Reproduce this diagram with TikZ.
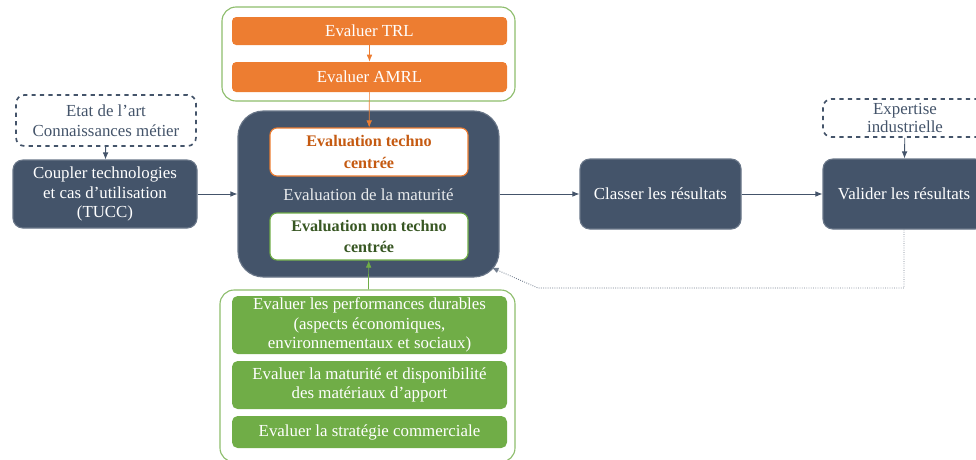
\documentclass[tikz,border=0pt]{standalone}
\usepackage{fontspec}
\setmainfont{Liberation Serif}
\usepackage{tikz}
\usetikzlibrary{arrows.meta,calc,positioning}
\definecolor{SchemaSlate}{RGB}{68,84,106}
\definecolor{SchemaOrange}{RGB}{237,125,49}
\definecolor{SchemaOrangeText}{RGB}{197,90,17}
\definecolor{SchemaGreen}{RGB}{112,173,71}
\definecolor{SchemaGreenText}{RGB}{56,87,35}

\begin{document}
\begin{tikzpicture}[>={Latex[length=5pt,width=4pt]},
  every node/.style={font=\fontsize{12}{14}\selectfont,align=center,inner sep=0pt},
  darkbox/.style={draw=SchemaSlate!80,fill=SchemaSlate,text=white,rounded corners=7pt,thick},
  orangebox/.style={fill=SchemaOrange,text=white,rounded corners=3pt,minimum width=6.875cm},
  greenbox/.style={fill=SchemaGreen,text=white,rounded corners=4pt,minimum width=6.875cm},
  frame/.style={draw=SchemaGreen!80,rounded corners=10pt,line width=0.8pt},
  inputbox/.style={draw=SchemaSlate,dashed,line width=1.2pt,rounded corners=6pt,text=SchemaSlate},
  link/.style={->,SchemaSlate,line width=0.6pt}]
\useasboundingbox (0,0) rectangle (24.4,-11.475);
\clip (0,0) rectangle (24.4,-11.475);
% orange block
\node[frame,minimum width=7.325cm,minimum height=2.35cm] (topframe) at (9.2125,-1.35) {};
\node[orangebox,minimum height=0.7cm] (trl) at (9.2375,-0.775) {Evaluer TRL};
\node[orangebox,minimum height=0.75cm] (amrl) at (9.2375,-1.925) {Evaluer AMRL};
% maturity
\node[darkbox,rounded corners=18pt,minimum width=6.525cm,minimum height=4.15cm] (maturite) at (9.2125,-4.85) {};
\node[text=white!88!SchemaSlate] (maturitelabel) at (9.2125,-4.875) {Evaluation de la maturité};
\node[draw=SchemaOrange,fill=white,thick,rounded corners=5pt,minimum width=4.95cm,minimum height=1.2cm,text=SchemaOrangeText,font=\fontsize{11.5}{15}\selectfont\bfseries] (techno) at (9.225,-3.8) {Evaluation techno\\centrée};
\node[draw=SchemaGreen,fill=white,thick,rounded corners=5pt,minimum width=4.95cm,minimum height=1.175cm,text=SchemaGreenText,font=\fontsize{11.5}{15}\selectfont\bfseries] (nontechno) at (9.225,-5.9125) {Evaluation non techno\\centrée};
% green block
\node[frame,minimum width=7.375cm,minimum height=4.3cm] (botframe) at (9.1875,-9.4) {};
\node[greenbox,minimum height=1.45cm] (perf) at (9.2375,-8.125) {Evaluer les performances durables\\(aspects économiques,\\environnementaux et sociaux)};
\node[greenbox,minimum height=1.2cm] (matdisp) at (9.2375,-9.625) {Evaluer la maturité et disponibilité\\des matériaux d’apport};
\node[greenbox,minimum height=0.8cm] (strat) at (9.2375,-10.8) {Evaluer la stratégie commerciale};
% process line
\node[inputbox,minimum width=4.5cm,minimum height=1.275cm] (etat) at (2.65,-3.0125) {Etat de l’art\\Connaissances métier};
\node[darkbox,minimum width=4.6cm,minimum height=1.7cm] (tucc) at (2.625,-4.85) {Coupler technologies\\et cas d’utilisation\\(TUCC)};
\node[darkbox,minimum width=4.025cm,minimum height=1.75cm] (classer) at (16.5125,-4.85) {Classer les résultats};
\node[darkbox,minimum width=4.05cm,minimum height=1.75cm] (valider) at (22.6,-4.85) {Valider les résultats};
\node[inputbox,minimum width=4.1cm,minimum height=0.95cm,font=\fontsize{12}{12.5}\selectfont] (expertise) at (22.625,-2.95) {Expertise\\industrielle};
\coordinate (retourbas) at (22.6,-7.2);
\coordinate (retourcoin) at (13.45,-7.2);
\draw[->,SchemaOrange,line width=0.5pt] (trl) -- (amrl);
\draw[->,SchemaOrange,line width=0.5pt] (amrl) -- (techno);
\draw[->,SchemaGreen,line width=0.5pt] (botframe) -- (nontechno);
\draw[link] (etat) -- (tucc);
\draw[link] (tucc) -- (maturite);
\draw[link] (maturite) -- (classer);
\draw[link] (classer) -- (valider);
\draw[link] (expertise) -- (valider);
\draw[->,SchemaSlate!75,densely dotted,line width=0.6pt] (valider) -- (retourbas) -- (retourcoin) -- ($(maturite.south east)+(-0.2,0.25)$);
\end{tikzpicture}
\end{document}
